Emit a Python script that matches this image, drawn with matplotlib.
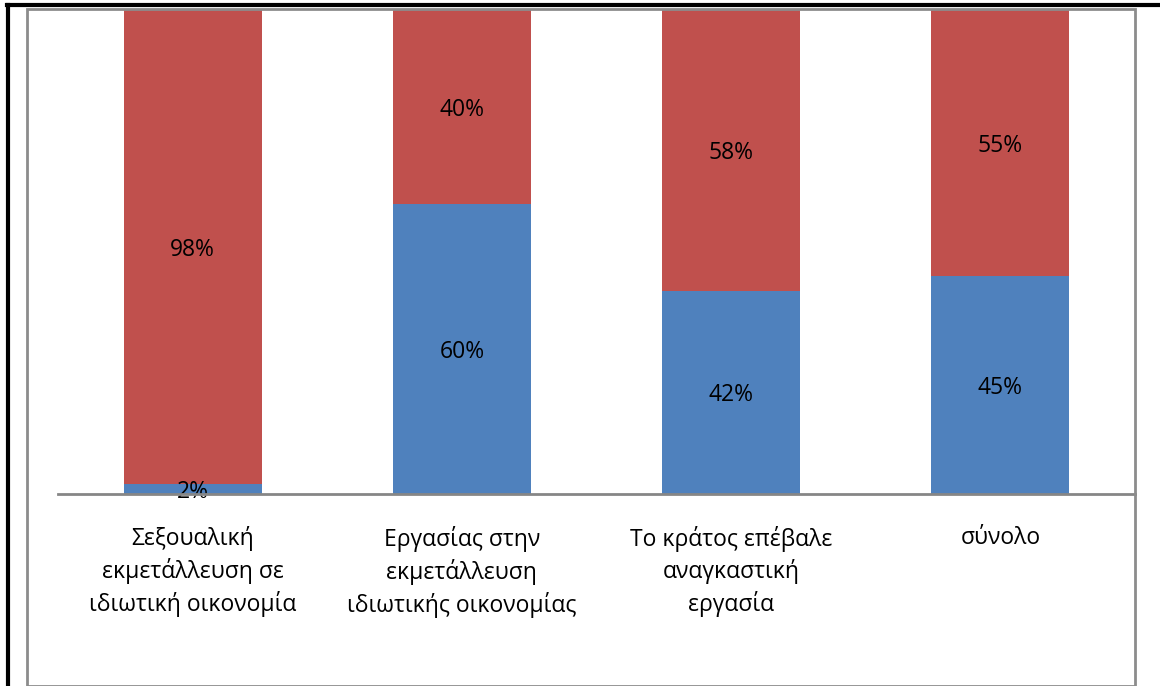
import matplotlib.pyplot as plt
from matplotlib.lines import Line2D
from matplotlib.patches import Rectangle

categories = [
    "Σεξουαλική\nεκμετάλλευση σε\nιδιωτική οικονομία",
    "Εργασίας στην\nεκμετάλλευση\nιδιωτικής οικονομίας",
    "Το κράτος επέβαλε\nαναγκαστική\nεργασία",
    "σύνολο",
]
blue_vals = [2, 60, 42, 45]
red_vals = [98, 40, 58, 55]

plt.rcParams["font.family"] = ["Open Sans", "DejaVu Sans"]

W, H = 1160, 686
fig = plt.figure(figsize=(W / 100, H / 100), dpi=100)
ax = fig.add_axes([58 / W, 1 - 494 / H, (1135 - 58) / W, (494 - 10) / H])

x = list(range(len(categories)))
bw = 0.513
ax.bar(x, blue_vals, width=bw, color="#4F81BD", zorder=2)
ax.bar(x, red_vals, width=bw, bottom=blue_vals, color="#C0504D", zorder=2)

for i in x:
    ax.text(i, blue_vals[i] / 2, "%d%%" % blue_vals[i], ha="center",
            va="center_baseline", fontsize=16.5, color="black", zorder=3)
    ax.text(i, blue_vals[i] + red_vals[i] / 2, "%d%%" % red_vals[i], ha="center",
            va="center_baseline", fontsize=16.5, color="black", zorder=3)

ax.set_xlim(-0.5, len(categories) - 0.5)
ax.set_ylim(0, 100)
ax.set_xticks(x)
ax.set_xticklabels(categories, fontsize=16.5, linespacing=1.36, va="top")
ax.tick_params(axis="x", length=0, pad=23)
ax.set_yticks([])
for s in ["left", "right", "top"]:
    ax.spines[s].set_visible(False)
ax.spines["bottom"].set_color("#868686")
ax.spines["bottom"].set_linewidth(2)
ax.spines["bottom"].set_zorder(4)

# chart area frame and outer black border
fig.add_artist(Rectangle((27 / W, 0), (1135 - 27) / W, 1 - 9 / H, transform=fig.transFigure,
                         fill=False, edgecolor="#8c8c8c", linewidth=2))
fig.add_artist(Line2D([7 / W, 1], [1 - 5 / H, 1 - 5 / H], transform=fig.transFigure,
                      color="black", linewidth=3))
fig.add_artist(Line2D([8 / W, 8 / W], [0, 1 - 5 / H], transform=fig.transFigure,
                      color="black", linewidth=3))

fig.savefig("out.png", dpi=100)
